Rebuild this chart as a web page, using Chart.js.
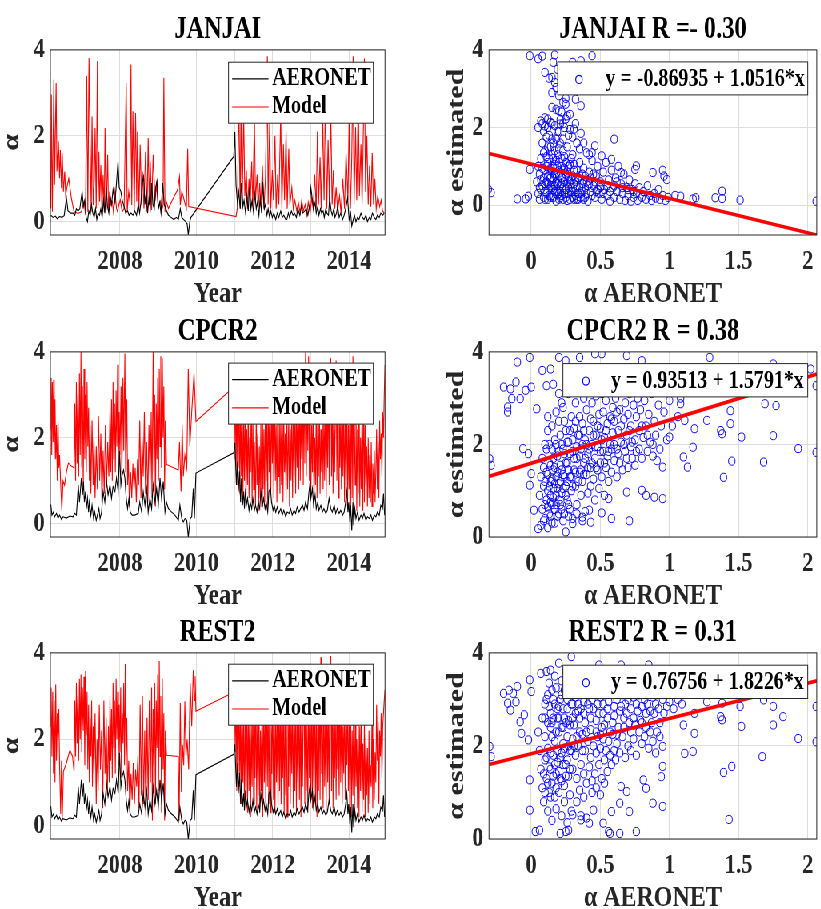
<!DOCTYPE html>
<html>
<head>
<meta charset="utf-8">
<script src="https://cdn.jsdelivr.net/npm/chart.js@4.4.1/dist/chart.umd.min.js"></script>
<style>
    html, body { margin: 0; padding: 0; background: #ffffff; overflow: hidden; }
    /* the figure is horizontally squeezed, so everything is drawn wide and scaled */
    #wrap { position: absolute; left: 0; top: 0; width: 1027px; height: 909px; transform: scaleX(0.8); transform-origin: 0 0; }
    canvas { position: absolute; }
</style>
</head>
<body>
<div id="wrap">
    <canvas id="c1" width="500" height="309" style="left:0px;top:0px"></canvas>
    <canvas id="c2" width="521" height="309" style="left:505px;top:0px"></canvas>
    <canvas id="c3" width="500" height="309" style="left:0px;top:302px"></canvas>
    <canvas id="c4" width="521" height="309" style="left:505px;top:302px"></canvas>
    <canvas id="c5" width="500" height="310" style="left:0px;top:603px"></canvas>
    <canvas id="c6" width="521" height="310" style="left:505px;top:603px"></canvas>
</div>
<script>
// ---- axes ----
const gridYears = [2007, 2008, 2009, 2010, 2011, 2012, 2013, 2014];
const yearLabels = [2008, 2010, 2012, 2014];
const alphaTicks = [0, 2, 4];
const aeronetTicks = [0, 0.5, 1, 1.5, 2];

// ---- JANJAI time series [year, alpha] ----
const jjObs = [[2006.19,0.15],[2006.25,0.1],[2006.31,0.13],[2006.36,0.07],[2006.42,0.12],[2006.485,0.1],[2006.54,0.14],[2006.6,0.55],[2006.64,0.25],[2006.71,0.2],[2006.77,0.2],[2006.82,0.15],[2006.86,0.3],[2006.905,0.25],[2006.95,0.3],[2007.01,0.7],[2007.045,0.35],[2007.08,0.5],[2007.115,0.1],[2007.15,0.0],[2007.185,0.25],[2007.22,0.15],[2007.255,0.4],[2007.29,0.2],[2007.325,0.1],[2007.36,0.3],[2007.395,0.05],[2007.43,0.2],[2007.465,0.15],[2007.5,0.3],[2007.535,0.1],[2007.57,0.5],[2007.605,0.2],[2007.64,0.8],[2007.675,0.35],[2007.71,0.2],[2007.745,0.6],[2007.78,0.4],[2007.82,0.75],[2007.87,0.45],[2007.91,0.9],[2007.95,1.4],[2007.98,0.8],[2008.025,0.7],[2008.06,0.5],[2008.11,0.35],[2008.15,0.2],[2008.2,0.25],[2008.24,0.15],[2008.29,0.2],[2008.34,0.15],[2008.39,0.25],[2008.435,0.15],[2008.48,0.4],[2008.515,0.2],[2008.55,0.45],[2008.585,0.9],[2008.62,1.05],[2008.655,0.4],[2008.69,0.7],[2008.725,0.2],[2008.76,0.55],[2008.795,0.3],[2008.83,0.9],[2008.865,0.4],[2008.9,0.3],[2008.935,0.8],[2008.97,0.95],[2009.005,0.3],[2009.04,0.45],[2009.075,0.2],[2009.12,0.9],[2009.16,0.4],[2009.2,0.3],[2009.27,0.15],[2009.34,0.1],[2009.41,0.05],[2009.48,0.1],[2009.53,0.05],[2009.58,0.3],[2009.62,0.1],[2009.67,0.05],[2009.72,0.0],[2009.76,-0.05],[2009.79,-0.3],[2009.83,0.0],[2009.86,0.1],
    [2010.98,1.52],[2011.01,2.09],[2011.04,0.86],[2011.08,0.4],[2011.11,0.7],[2011.15,0.3],[2011.18,0.9],[2011.22,0.35],[2011.25,0.5],[2011.29,0.2],[2011.32,0.6],[2011.36,0.25],[2011.39,0.8],[2011.43,0.3],[2011.46,0.5],[2011.5,0.2],[2011.53,0.65],[2011.57,0.3],[2011.6,0.45],[2011.64,0.15],[2011.67,0.55],[2011.71,0.2],[2011.74,0.93],[2011.78,0.3],[2011.81,0.4],[2011.85,0.15],[2011.88,0.3],[2011.92,0.1],[2011.95,0.25],[2011.99,0.1],[2012.03,0.2],[2012.08,0.05],[2012.12,0.2],[2012.16,0.1],[2012.21,0.25],[2012.25,0.1],[2012.29,0.15],[2012.34,0.05],[2012.37,0.05],[2012.41,0.2],[2012.44,0.1],[2012.49,0.25],[2012.53,0.15],[2012.57,0.2],[2012.62,0.1],[2012.66,0.3],[2012.71,0.15],[2012.75,0.35],[2012.79,0.2],[2012.84,0.25],[2012.88,0.3],[2012.92,0.15],[2012.97,0.4],[2013.0,0.79],[2013.04,0.5],[2013.07,0.3],[2013.11,0.45],[2013.14,0.2],[2013.18,0.35],[2013.21,0.15],[2013.25,0.3],[2013.28,0.2],[2013.32,0.25],[2013.35,0.1],[2013.39,0.3],[2013.42,0.2],[2013.46,0.15],[2013.49,0.55],[2013.53,0.25],[2013.56,0.15],[2013.6,0.3],[2013.63,0.1],[2013.67,0.2],[2013.7,0.35],[2013.74,0.1],[2013.78,0.2],[2013.83,0.05],[2013.87,0.15],[2013.91,0.3],[2013.96,0.55],[2014.0,0.05],[2014.04,0.2],[2014.07,-0.1],[2014.11,0.05],[2014.14,0.15],[2014.18,0.0],[2014.22,0.1],[2014.26,0.05],[2014.31,0.2],[2014.35,0.1],[2014.39,0.05],[2014.44,0.15],[2014.48,0.0],[2014.53,0.1],[2014.57,0.05],[2014.61,0.2],[2014.66,0.1],[2014.7,0.05],[2014.74,0.15],[2014.79,0.1],[2014.83,0.2],[2014.88,0.15],[2014.92,0.2]];

const jjModel = [[2006.19,0.31],[2006.205,2.96],[2006.23,0.23],[2006.27,3.31],[2006.29,0.86],[2006.33,3.23],[2006.35,1.17],[2006.39,1.87],[2006.42,1.01],[2006.44,1.67],[2006.47,0.78],[2006.49,1.6],[2006.52,0.7],[2006.555,1.17],[2006.58,0.62],[2006.625,0.86],[2006.66,1.01],[2006.73,0.54],[2006.8,0.23],[2006.905,0.19],[2006.99,0.23],[2007.06,0.47],[2007.1,0.16],[2007.13,3.39],[2007.16,0.23],[2007.19,3.81],[2007.22,1.79],[2007.25,0.23],[2007.27,2.45],[2007.3,0.39],[2007.33,1.01],[2007.35,2.18],[2007.38,0.31],[2007.41,3.74],[2007.43,0.39],[2007.45,1.63],[2007.47,0.47],[2007.5,1.32],[2007.53,0.23],[2007.56,1.09],[2007.59,0.23],[2007.61,2.18],[2007.64,0.27],[2007.68,1.56],[2007.7,0.23],[2007.73,0.7],[2007.76,0.39],[2007.8,0.47],[2007.83,0.23],[2007.87,0.7],[2007.91,0.31],[2007.94,0.23],[2007.97,0.39],[2008.01,0.51],[2008.06,0.23],[2008.11,0.31],[2008.165,3.23],[2008.19,0.23],[2008.23,0.7],[2008.26,0.47],[2008.29,3.66],[2008.31,0.39],[2008.34,2.57],[2008.375,0.23],[2008.41,2.53],[2008.44,0.47],[2008.46,2.1],[2008.5,0.31],[2008.53,1.79],[2008.57,0.39],[2008.59,1.17],[2008.63,0.31],[2008.67,1.63],[2008.71,0.23],[2008.74,1.95],[2008.77,0.39],[2008.795,1.4],[2008.83,0.27],[2008.87,1.56],[2008.92,0.47],[2008.96,0.86],[2009.005,0.31],[2009.06,0.47],[2009.09,0.23],[2009.13,0.39],[2009.15,3.35],[2009.18,0.23],[2009.215,0.47],[2009.27,0.31],[2009.355,0.47],[2009.44,0.62],[2009.51,0.74],[2009.56,1.05],[2009.58,0.39],[2009.62,0.7],[2009.65,0.62],[2009.69,0.47],[2009.74,0.31],[2009.775,1.7],[2009.8,0.35],
    [2011.04,0.12],[2011.08,0.35],[2011.11,3.0],[2011.15,0.3],[2011.17,2.8],[2011.2,0.4],[2011.24,2.5],[2011.27,0.6],[2011.31,1.2],[2011.34,0.3],[2011.38,1.0],[2011.41,0.4],[2011.45,1.4],[2011.48,0.35],[2011.52,2.4],[2011.55,0.5],[2011.59,1.1],[2011.62,0.3],[2011.66,0.9],[2011.69,0.35],[2011.73,1.3],[2011.77,0.3],[2011.81,1.0],[2011.86,3.85],[2011.88,0.4],[2011.92,2.3],[2011.95,0.3],[2011.99,1.2],[2012.02,0.5],[2012.06,2.0],[2012.09,0.3],[2012.13,1.1],[2012.16,0.4],[2012.21,2.5],[2012.24,0.3],[2012.28,1.8],[2012.31,0.5],[2012.35,2.1],[2012.38,0.3],[2012.42,1.7],[2012.45,0.4],[2012.5,0.8],[2012.54,0.3],[2012.58,0.5],[2012.63,0.25],[2012.67,0.45],[2012.72,0.2],[2012.76,0.5],[2012.8,0.25],[2012.85,0.4],[2012.89,0.15],[2012.93,0.45],[2012.98,0.2],[2013.02,0.55],[2013.06,0.3],[2013.1,1.1],[2013.14,0.3],[2013.17,2.1],[2013.2,0.4],[2013.24,1.5],[2013.27,0.3],[2013.31,2.4],[2013.345,0.5],[2013.38,2.9],[2013.415,0.3],[2013.45,1.9],[2013.485,0.5],[2013.52,2.6],[2013.555,0.4],[2013.59,1.2],[2013.625,0.3],[2013.66,0.8],[2013.7,0.25],[2013.75,0.6],[2013.79,0.2],[2013.835,1.0],[2013.88,0.3],[2013.92,1.6],[2013.97,0.5],[2014.0,2.4],[2014.035,0.3],[2014.07,1.5],[2014.105,3.85],[2014.13,0.4],[2014.17,2.2],[2014.2,0.5],[2014.24,2.9],[2014.27,0.6],[2014.31,1.8],[2014.34,0.4],[2014.38,2.5],[2014.4,3.8],[2014.43,0.7],[2014.465,2.0],[2014.5,0.4],[2014.535,1.3],[2014.57,0.35],[2014.605,1.6],[2014.64,0.4],[2014.675,1.0],[2014.71,0.3],[2014.75,0.6],[2014.8,0.35],[2014.84,0.5],[2014.875,0.25],[2014.92,0.2]];

// ---- AERONET series shown in the CPCR2 and REST2 panels ----
const obsB = [[2006.19,0.45],[2006.22,0.2],[2006.26,0.27],[2006.29,0.16],[2006.34,0.24],[2006.38,0.13],[2006.42,0.2],[2006.47,0.1],[2006.51,0.16],[2006.6,0.13],[2006.69,0.18],[2006.77,0.16],[2006.82,0.24],[2006.86,0.2],[2006.89,0.59],[2006.91,0.9],[2006.94,0.5],[2006.97,0.82],[2006.99,1.06],[2007.02,0.67],[2007.045,0.98],[2007.07,0.5],[2007.1,0.75],[2007.12,0.35],[2007.15,0.6],[2007.18,0.27],[2007.2,0.5],[2007.24,0.2],[2007.27,0.43],[2007.31,0.12],[2007.34,0.27],[2007.38,0.08],[2007.41,0.2],[2007.45,0.35],[2007.48,0.12],[2007.52,0.27],[2007.56,0.75],[2007.605,0.5],[2007.65,0.98],[2007.69,0.67],[2007.74,0.9],[2007.78,0.59],[2007.82,0.86],[2007.87,0.75],[2007.91,1.06],[2007.955,0.75],[2007.99,1.69],[2008.025,0.9],[2008.06,1.14],[2008.095,1.25],[2008.13,1.06],[2008.165,0.59],[2008.2,0.35],[2008.235,0.59],[2008.27,0.27],[2008.32,0.2],[2008.39,0.2],[2008.48,0.24],[2008.52,0.5],[2008.57,0.27],[2008.61,0.75],[2008.655,0.43],[2008.7,0.82],[2008.74,0.27],[2008.785,0.59],[2008.83,0.35],[2008.87,0.9],[2008.92,0.5],[2008.96,0.82],[2009.005,0.43],[2009.05,1.06],[2009.09,0.59],[2009.135,0.98],[2009.18,0.27],[2009.22,0.5],[2009.27,0.35],[2009.355,0.27],[2009.44,0.2],[2009.53,0.08],[2009.57,0.43],[2009.62,0.12],[2009.66,0.04],[2009.705,0.12],[2009.75,0.08],[2009.79,-0.31],[2009.84,0.12],[2009.88,0.16],[2009.92,0.82],[2009.95,0.12],[2009.99,1.18],
    [2010.98,1.65],[2011.01,1.88],[2011.03,1.37],[2011.05,0.9],[2011.08,1.45],[2011.1,0.75],[2011.13,1.22],[2011.16,0.5],[2011.18,1.06],[2011.21,0.43],[2011.24,0.75],[2011.26,0.35],[2011.29,0.82],[2011.31,0.43],[2011.34,0.59],[2011.38,0.31],[2011.41,0.5],[2011.45,0.35],[2011.48,0.59],[2011.52,0.31],[2011.55,0.43],[2011.59,0.27],[2011.62,0.5],[2011.66,0.35],[2011.69,0.75],[2011.73,0.43],[2011.76,0.59],[2011.8,0.35],[2011.83,0.5],[2011.87,0.27],[2011.9,0.75],[2011.94,0.82],[2011.97,0.5],[2012.01,0.31],[2012.04,0.43],[2012.08,0.27],[2012.12,0.39],[2012.16,0.24],[2012.21,0.35],[2012.25,0.2],[2012.29,0.31],[2012.34,0.16],[2012.38,0.27],[2012.43,0.24],[2012.47,0.35],[2012.51,0.2],[2012.56,0.31],[2012.6,0.24],[2012.64,0.39],[2012.69,0.27],[2012.73,0.35],[2012.78,0.43],[2012.82,0.31],[2012.86,0.5],[2012.91,0.35],[2012.95,0.75],[2012.98,0.98],[2013.0,0.59],[2013.04,0.82],[2013.07,0.43],[2013.11,0.67],[2013.14,0.35],[2013.18,0.5],[2013.21,0.31],[2013.26,0.43],[2013.3,0.27],[2013.34,0.35],[2013.39,0.24],[2013.43,0.31],[2013.475,0.59],[2013.52,0.35],[2013.56,0.27],[2013.61,0.43],[2013.65,0.24],[2013.69,0.35],[2013.74,0.24],[2013.78,0.31],[2013.83,0.2],[2013.87,0.27],[2013.91,0.5],[2013.94,0.75],[2013.97,0.27],[2013.99,0.5],[2014.02,0.04],[2014.04,0.43],[2014.07,-0.16],[2014.1,0.5],[2014.12,-0.04],[2014.15,0.35],[2014.18,0.12],[2014.22,0.27],[2014.26,0.08],[2014.31,0.2],[2014.35,0.12],[2014.39,0.24],[2014.44,0.08],[2014.48,0.16],[2014.53,0.12],[2014.57,0.2],[2014.61,0.08],[2014.66,0.2],[2014.7,0.16],[2014.74,0.27],[2014.79,0.2],[2014.83,0.43],[2014.875,0.35],[2014.9,0.7],[2014.93,0.2]];

// ---- CPCR2 model ----
const cpModel = [[2006.19,2.2],[2006.2,3.4],[2006.215,1.6],[2006.23,3.3],[2006.25,1.9],[2006.265,3.35],[2006.28,1.5],[2006.3,2.9],[2006.32,1.5],[2006.34,2.3],[2006.36,1.0],[2006.38,2.4],[2006.4,1.3],[2006.42,1.6],[2006.45,0.9],[2006.48,0.3],[2006.51,1.0],[2006.55,0.9],[2006.6,1.2],[2006.65,1.41],[2006.72,1.35],[2006.8,1.3],[2006.82,2.8],[2006.84,1.0],[2006.86,3.3],[2006.88,1.4],[2006.9,3.0],[2006.92,1.1],[2006.94,3.5],[2006.96,1.6],[2006.98,4.0],[2007.0,1.3],[2007.02,3.2],[2007.04,0.8],[2007.06,3.6],[2007.08,1.5],[2007.1,3.0],[2007.12,1.2],[2007.14,3.3],[2007.16,1.8],[2007.18,2.7],[2007.2,1.0],[2007.22,2.3],[2007.24,0.7],[2007.27,2.4],[2007.3,0.9],[2007.32,2.0],[2007.35,0.6],[2007.38,1.8],[2007.41,0.8],[2007.44,2.5],[2007.47,1.0],[2007.5,2.1],[2007.53,0.5],[2007.56,1.7],[2007.59,0.7],[2007.62,2.3],[2007.65,0.9],[2007.68,1.9],[2007.71,1.1],[2007.74,2.6],[2007.76,1.2],[2007.78,2.9],[2007.8,1.0],[2007.82,3.3],[2007.84,1.5],[2007.86,2.8],[2007.88,1.2],[2007.9,3.1],[2007.92,1.8],[2007.94,3.7],[2007.96,1.3],[2007.98,2.6],[2008.0,1.6],[2008.03,3.2],[2008.05,1.0],[2008.08,3.4],[2008.1,1.7],[2008.13,3.96],[2008.15,1.2],[2008.18,2.9],[2008.2,0.9],[2008.22,1.5],[2008.25,0.4],[2008.28,1.2],[2008.31,0.6],[2008.34,1.4],[2008.37,0.8],[2008.4,1.3],[2008.43,0.5],[2008.46,1.5],[2008.49,0.9],[2008.52,2.4],[2008.55,0.6],[2008.58,2.0],[2008.61,1.1],[2008.64,2.6],[2008.67,0.7],[2008.7,1.9],[2008.73,0.5],[2008.76,2.3],[2008.79,1.0],[2008.82,2.6],[2008.84,0.6],[2008.87,4.0],[2008.89,1.2],[2008.91,3.0],[2008.93,0.4],[2008.95,2.8],[2008.97,1.5],[2008.99,3.4],[2009.01,1.0],[2009.03,3.6],[2009.05,1.8],[2009.07,3.9],[2009.09,1.3],[2009.11,3.85],[2009.13,2.0],[2009.15,3.2],[2009.17,0.8],[2009.19,2.4],[2009.22,1.38],[2009.53,1.25],[2009.56,1.9],[2009.6,0.75],[2009.63,2.3],[2009.66,1.1],[2009.7,1.6],[2009.75,1.3],[2009.79,3.6],[2009.83,1.8],[2009.88,2.6],[2009.94,3.5],[2009.99,2.38],
    [2011.0,3.2],[2011.02,1.5],[2011.04,3.4],[2011.06,0.9],[2011.08,2.9],[2011.1,1.3],[2011.12,3.6],[2011.14,0.7],[2011.16,2.6],[2011.18,1.1],[2011.2,3.3],[2011.22,0.6],[2011.24,2.4],[2011.26,1.0],[2011.28,3.1],[2011.3,0.5],[2011.32,2.2],[2011.34,0.9],[2011.36,2.8],[2011.38,0.6],[2011.4,2.0],[2011.42,1.2],[2011.44,3.0],[2011.46,0.5],[2011.48,2.5],[2011.5,0.8],[2011.52,1.9],[2011.55,0.4],[2011.57,2.7],[2011.59,0.9],[2011.61,2.1],[2011.63,0.3],[2011.65,1.8],[2011.67,0.6],[2011.69,2.4],[2011.71,0.4],[2011.73,2.9],[2011.75,0.8],[2011.77,2.2],[2011.79,0.5],[2011.81,3.0],[2011.83,1.0],[2011.85,2.6],[2011.87,0.4],[2011.89,3.3],[2011.91,1.2],[2011.93,2.5],[2011.95,0.7],[2011.97,3.1],[2011.99,1.4],[2012.01,2.7],[2012.03,0.6],[2012.05,3.4],[2012.07,1.0],[2012.09,2.3],[2012.11,0.5],[2012.13,2.8],[2012.15,1.1],[2012.17,3.0],[2012.19,0.7],[2012.21,2.4],[2012.23,0.9],[2012.25,3.2],[2012.27,0.5],[2012.29,2.6],[2012.31,1.2],[2012.33,2.1],[2012.35,0.6],[2012.37,2.9],[2012.39,0.8],[2012.42,2.5],[2012.44,0.4],[2012.46,2.2],[2012.48,1.0],[2012.5,3.0],[2012.52,0.6],[2012.54,2.4],[2012.56,1.1],[2012.58,3.3],[2012.6,0.7],[2012.62,2.6],[2012.64,1.3],[2012.66,2.9],[2012.68,0.8],[2012.7,3.5],[2012.72,1.0],[2012.74,2.7],[2012.76,1.5],[2012.78,3.2],[2012.8,0.9],[2012.82,3.7],[2012.84,1.4],[2012.86,4.0],[2012.88,1.1],[2012.9,3.0],[2012.92,1.7],[2012.94,3.9],[2012.96,1.0],[2012.98,2.8],[2013.0,0.7],[2013.02,2.3],[2013.04,1.2],[2013.06,3.1],[2013.08,0.5],[2013.1,2.0],[2013.12,0.9],[2013.14,2.7],[2013.16,0.6],[2013.18,2.4],[2013.2,1.1],[2013.22,3.0],[2013.24,0.7],[2013.26,2.2],[2013.28,1.2],[2013.3,2.9],[2013.32,0.8],[2013.34,2.5],[2013.36,1.0],[2013.38,3.2],[2013.4,0.6],[2013.42,2.7],[2013.44,1.3],[2013.46,3.6],[2013.48,0.9],[2013.5,3.0],[2013.52,3.85],[2013.54,1.1],[2013.56,2.6],[2013.58,0.7],[2013.6,3.3],[2013.62,1.2],[2013.64,2.4],[2013.66,3.8],[2013.68,1.0],[2013.7,2.8],[2013.72,0.6],[2013.74,3.1],[2013.76,1.3],[2013.78,2.5],[2013.8,0.8],[2013.82,3.4],[2013.84,1.1],[2013.86,2.9],[2013.88,0.5],[2013.9,2.6],[2013.92,1.0],[2013.94,3.2],[2013.96,0.4],[2013.98,2.3],[2014.0,0.8],[2014.02,2.9],[2014.04,0.3],[2014.06,3.5],[2014.08,0.6],[2014.1,3.9],[2014.12,0.4],[2014.14,2.4],[2014.16,0.9],[2014.18,3.0],[2014.2,0.3],[2014.22,2.2],[2014.24,0.7],[2014.26,3.3],[2014.28,0.4],[2014.3,2.0],[2014.32,0.8],[2014.34,2.7],[2014.36,0.3],[2014.38,3.6],[2014.4,0.5],[2014.42,2.3],[2014.44,0.9],[2014.46,1.8],[2014.48,0.4],[2014.5,2.0],[2014.52,0.6],[2014.54,1.6],[2014.56,0.5],[2014.58,1.9],[2014.6,0.4],[2014.62,1.4],[2014.64,0.7],[2014.66,1.7],[2014.68,0.5],[2014.7,1.2],[2014.72,2.2],[2014.74,0.8],[2014.76,1.9],[2014.78,0.6],[2014.8,2.4],[2014.82,1.5],[2014.84,2.1],[2014.86,1.1],[2014.88,2.6],[2014.9,2.0],[2014.92,3.0],[2014.94,3.7]];

// ---- REST2 model ----
const rsModel = [[2006.19,2.3],[2006.2,3.2],[2006.22,1.6],[2006.24,3.1],[2006.26,1.2],[2006.28,2.9],[2006.3,1.0],[2006.32,3.27],[2006.34,1.5],[2006.36,2.6],[2006.38,2.0],[2006.4,2.7],[2006.42,1.4],[2006.45,0.27],[2006.47,1.5],[2006.49,0.15],[2006.52,1.25],[2006.6,1.45],[2006.69,1.75],[2006.76,1.6],[2006.8,1.25],[2006.82,2.9],[2006.84,1.6],[2006.86,3.3],[2006.88,1.9],[2006.9,3.0],[2006.92,1.5],[2006.94,3.4],[2006.96,2.0],[2006.98,3.5],[2007.0,1.7],[2007.02,3.2],[2007.04,2.2],[2007.06,3.45],[2007.08,1.4],[2007.1,3.58],[2007.12,2.1],[2007.14,3.1],[2007.16,1.3],[2007.18,2.8],[2007.2,1.0],[2007.22,2.5],[2007.24,1.6],[2007.26,2.9],[2007.28,0.9],[2007.3,2.3],[2007.32,1.2],[2007.35,2.6],[2007.38,0.5],[2007.4,2.0],[2007.43,0.8],[2007.46,2.8],[2007.49,1.3],[2007.52,2.2],[2007.55,0.4],[2007.58,2.9],[2007.61,1.2],[2007.64,2.5],[2007.67,0.7],[2007.7,2.3],[2007.72,1.0],[2007.74,3.0],[2007.76,1.5],[2007.78,2.7],[2007.8,1.1],[2007.82,3.3],[2007.84,1.8],[2007.86,2.9],[2007.88,1.2],[2007.9,3.4],[2007.92,2.0],[2007.94,3.1],[2007.96,1.4],[2007.98,2.8],[2008.0,1.7],[2008.02,3.2],[2008.04,1.1],[2008.06,2.6],[2008.08,1.9],[2008.1,3.3],[2008.12,1.4],[2008.14,3.74],[2008.16,1.6],[2008.18,2.5],[2008.2,0.8],[2008.23,1.5],[2008.26,0.3],[2008.29,1.2],[2008.32,0.6],[2008.35,1.45],[2008.38,0.5],[2008.41,1.3],[2008.44,0.9],[2008.47,1.6],[2008.5,0.4],[2008.53,2.8],[2008.56,0.7],[2008.59,3.0],[2008.62,0.5],[2008.65,2.2],[2008.68,0.2],[2008.71,2.5],[2008.74,0.6],[2008.77,2.9],[2008.8,1.0],[2008.83,3.2],[2008.85,0.12],[2008.87,2.7],[2008.89,1.4],[2008.91,3.3],[2008.93,0.5],[2008.95,2.9],[2008.97,1.8],[2008.99,3.5],[2009.01,0.8],[2009.03,3.81],[2009.05,1.6],[2009.07,3.0],[2009.09,0.3],[2009.11,3.4],[2009.13,1.3],[2009.15,2.6],[2009.17,0.12],[2009.19,2.2],[2009.22,1.63],[2009.53,1.6],[2009.55,0.12],[2009.58,2.84],[2009.61,0.78],[2009.64,1.87],[2009.67,1.4],[2009.7,2.88],[2009.73,1.6],[2009.76,2.0],[2009.8,1.3],[2009.84,3.3],[2009.88,2.3],[2009.92,3.6],[2009.95,2.9],[2009.97,3.46],[2009.99,2.65],
    [2011.0,3.1],[2011.02,1.7],[2011.04,3.3],[2011.06,0.8],[2011.08,3.0],[2011.1,1.2],[2011.12,3.5],[2011.14,0.9],[2011.16,2.7],[2011.18,0.5],[2011.2,3.2],[2011.22,1.0],[2011.24,2.5],[2011.26,0.4],[2011.28,2.9],[2011.3,0.7],[2011.32,3.4],[2011.34,0.3],[2011.36,2.6],[2011.38,0.8],[2011.4,3.0],[2011.42,0.2],[2011.44,2.4],[2011.46,0.9],[2011.48,3.1],[2011.5,0.5],[2011.52,2.8],[2011.54,1.1],[2011.56,3.3],[2011.58,0.4],[2011.6,2.5],[2011.62,0.7],[2011.64,3.0],[2011.66,0.3],[2011.68,2.2],[2011.7,0.8],[2011.72,2.9],[2011.74,0.2],[2011.76,3.2],[2011.78,1.0],[2011.8,2.6],[2011.82,0.4],[2011.84,3.4],[2011.86,0.9],[2011.88,2.8],[2011.9,0.5],[2011.92,3.1],[2011.94,0.3],[2011.96,2.4],[2011.98,1.2],[2012.0,3.3],[2012.02,0.6],[2012.04,2.7],[2012.06,0.3],[2012.08,3.0],[2012.1,1.0],[2012.12,2.5],[2012.14,0.4],[2012.16,3.2],[2012.18,0.8],[2012.2,2.9],[2012.22,0.5],[2012.24,3.5],[2012.26,1.1],[2012.28,2.6],[2012.3,0.3],[2012.32,3.1],[2012.34,0.7],[2012.36,2.4],[2012.38,0.2],[2012.4,2.8],[2012.42,0.9],[2012.44,3.3],[2012.46,0.5],[2012.48,2.6],[2012.5,1.2],[2012.52,3.0],[2012.54,0.4],[2012.56,2.7],[2012.58,0.8],[2012.6,3.4],[2012.62,0.3],[2012.64,2.5],[2012.66,1.0],[2012.68,3.1],[2012.7,0.6],[2012.72,2.8],[2012.74,0.2],[2012.76,3.3],[2012.78,0.9],[2012.8,2.6],[2012.82,3.72],[2012.84,0.5],[2012.86,3.0],[2012.88,0.8],[2012.9,2.4],[2012.92,0.3],[2012.94,3.2],[2012.96,1.1],[2012.98,2.7],[2013.0,0.6],[2013.02,3.5],[2013.04,0.4],[2013.06,2.9],[2013.08,1.0],[2013.1,3.3],[2013.12,0.5],[2013.14,2.6],[2013.16,0.2],[2013.18,3.0],[2013.2,0.8],[2013.22,3.6],[2013.24,0.6],[2013.26,3.9],[2013.28,1.2],[2013.3,2.8],[2013.32,0.4],[2013.34,3.1],[2013.36,0.9],[2013.38,2.5],[2013.4,0.3],[2013.42,3.4],[2013.44,1.0],[2013.46,2.7],[2013.48,0.5],[2013.5,3.2],[2013.52,3.93],[2013.54,0.8],[2013.56,2.9],[2013.58,0.4],[2013.6,3.5],[2013.62,1.1],[2013.64,2.6],[2013.66,0.6],[2013.68,3.0],[2013.7,1.3],[2013.72,2.4],[2013.74,0.7],[2013.76,3.3],[2013.78,1.0],[2013.8,2.8],[2013.82,0.5],[2013.84,2.3],[2013.86,1.2],[2013.88,3.1],[2013.9,0.6],[2013.92,2.6],[2013.94,1.4],[2013.96,3.0],[2013.98,0.8],[2014.0,2.4],[2014.02,0.4],[2014.04,2.9],[2014.06,0.2],[2014.08,2.2],[2014.1,0.7],[2014.12,3.2],[2014.14,0.3],[2014.16,2.5],[2014.18,0.9],[2014.2,2.0],[2014.22,0.4],[2014.24,2.7],[2014.26,0.2],[2014.28,2.3],[2014.3,0.8],[2014.32,2.9],[2014.34,0.3],[2014.36,1.9],[2014.38,0.6],[2014.4,2.4],[2014.42,0.2],[2014.44,2.1],[2014.46,0.7],[2014.48,1.8],[2014.5,0.3],[2014.52,2.2],[2014.54,0.5],[2014.56,1.4],[2014.58,0.9],[2014.6,2.5],[2014.62,0.4],[2014.64,2.0],[2014.66,0.6],[2014.68,1.7],[2014.7,1.0],[2014.72,2.8],[2014.74,1.5],[2014.76,2.4],[2014.78,0.5],[2014.8,2.2],[2014.82,1.6],[2014.84,2.6],[2014.86,1.1],[2014.88,2.3],[2014.9,2.6],[2014.92,2.9],[2014.94,3.15]];

// ---- scatter: [alpha AERONET, alpha estimated] ----
const jjScatter = [[-0.01,3.85],[0.05,3.77],[0.08,3.84],[0.17,3.87],[0.44,3.85],[0.16,3.68],[0.19,3.5],[0.1,3.42],[0.13,3.27],[0.15,3.29],[0.17,3.16],[0.18,3.03],[0.15,2.9],[0.2,2.82],[0.25,2.75],[0.32,2.73],[0.36,2.56],[0.27,3.16],[0.3,3.68],[0.36,3.72],[0.15,2.52],[0.18,2.47],[0.2,2.43],[0.23,2.65],[0.28,2.34],[0.07,2.17],[0.1,2.04],[0.12,2.22],[0.14,2.13],[0.21,2.09],[0.25,2.22],[0.31,1.96],[0.6,1.7],[0.46,1.53],[0.44,1.35],[0.51,1.27],[0.58,1.18],[0.65,0.84],[0.76,1.01],[0.75,0.92],[0.88,0.84],[0.95,0.9],[0.96,0.75],[0.98,0.66],[-0.31,0.41],[-0.29,0.32],[-0.1,0.16],[-0.04,0.16],[-0.02,0.23],[-0.01,0.92],[1.04,0.25],[1.08,0.23],[1.17,0.16],[1.19,0.19],[1.33,0.19],[1.38,0.36],[1.38,0.17],[1.51,0.13],[2.06,0.1],
    [0.05,0.3],[0.06,0.8],[0.07,1.2],[0.08,0.5],[0.08,1.6],[0.09,0.2],[0.1,0.9],[0.1,1.4],[0.11,0.6],[0.12,0.15],[0.12,1.1],[0.13,1.8],[0.13,0.4],[0.14,0.7],[0.15,1.3],[0.15,0.25],[0.16,0.95],[0.16,1.6],[0.17,0.5],[0.18,0.1],[0.18,1.15],[0.19,0.35],[0.19,1.9],[0.2,0.75],[0.2,1.45],[0.21,0.2],[0.22,1.0],[0.22,0.55],[0.23,1.7],[0.24,0.3],[0.24,1.25],[0.25,0.8],[0.26,0.12],[0.26,1.5],[0.27,0.45],[0.28,1.05],[0.28,1.95],[0.29,0.65],[0.3,0.2],[0.3,1.3],[0.31,0.9],[0.32,0.4],[0.33,1.6],[0.33,0.15],[0.34,0.7],[0.35,1.1],[0.36,0.3],[0.36,1.85],[0.37,0.55],[0.38,0.95],[0.39,0.2],[0.4,1.35],[0.4,0.6],[0.41,0.1],[0.42,0.85],[0.43,0.35],[0.44,1.15],[0.45,0.5],[0.46,0.2],[0.47,0.75],[0.48,1.0],[0.49,0.3],[0.5,0.6],[0.51,0.15],[0.52,0.85],[0.53,0.4],[0.54,1.1],[0.55,0.25],[0.56,0.65],[0.57,0.1],[0.58,0.9],[0.59,0.45],[0.6,0.2],[0.61,0.7],[0.62,0.35],[0.63,1.0],[0.64,0.15],[0.65,0.55],[0.66,0.3],[0.67,0.8],[0.68,0.12],[0.69,0.45],[0.7,0.25],[0.71,0.65],[0.72,0.1],[0.73,0.4],[0.74,0.2],[0.75,0.55],[0.76,0.3],[0.77,0.12],[0.78,0.45],[0.8,0.2],[0.81,0.35],[0.83,0.15],[0.84,0.5],[0.86,0.25],[0.87,0.12],[0.89,0.3],[0.9,0.18],[0.92,0.4],[0.93,0.15],[0.95,0.25],[0.97,0.12],[0.99,0.2],
    [0.04,0.6],[0.05,1.0],[0.06,0.15],[0.07,0.4],[0.09,0.7],[0.1,0.35],[0.11,1.25],[0.12,0.55],[0.13,0.9],[0.14,0.2],[0.15,0.6],[0.16,0.4],[0.17,0.8],[0.18,0.6],[0.2,0.3],[0.21,0.5],[0.23,0.9],[0.25,0.4],[0.27,0.7],[0.29,0.35],[0.31,0.55],[0.34,0.3],[0.37,0.8],[0.39,0.45],[0.42,0.55],[0.45,0.8],[0.48,0.4],[0.05,2.0],[0.08,2.1],[0.1,2.25],[0.12,2.0],[0.14,1.5],[0.17,2.05],[0.21,2.2],[0.24,2.0],[0.26,2.3],[0.3,1.75],[0.32,2.1],[0.35,1.45],[0.38,1.6],[0.42,1.3],[0.25,2.6],[0.22,2.4],
    [0.06,0.45],[0.07,0.65],[0.08,0.95],[0.09,1.35],[0.1,0.15],[0.1,0.55],[0.11,0.3],[0.11,1.0],[0.12,0.75],[0.12,1.5],[0.13,0.25],[0.13,1.2],[0.14,0.5],[0.14,0.95],[0.15,0.45],[0.15,0.85],[0.15,1.7],[0.16,0.2],[0.16,0.7],[0.16,1.2],[0.17,0.35],[0.17,1.05],[0.17,1.4],[0.18,0.8],[0.18,0.3],[0.19,0.55],[0.19,1.0],[0.19,1.3],[0.2,0.15],[0.2,0.6],[0.2,1.1],[0.21,0.35],[0.21,0.85],[0.21,1.6],[0.22,0.25],[0.22,0.7],[0.22,1.2],[0.23,0.45],[0.23,0.15],[0.23,1.4],[0.24,0.6],[0.24,0.95],[0.25,0.2],[0.25,1.1],[0.26,0.55],[0.26,0.85],[0.27,0.3],[0.27,1.0],[0.28,0.15],[0.28,0.6],[0.29,0.45],[0.29,1.2],[0.3,0.75],[0.3,0.35],[0.31,0.15],[0.31,1.05],[0.32,0.65],[0.32,0.25],[0.33,0.5],[0.33,0.9],[0.34,0.15],[0.35,0.45],[0.35,0.75],[0.36,0.2],[0.37,0.35],[0.38,0.6],[0.38,0.15],[0.39,0.75],[0.4,0.3],[0.41,0.5],[0.43,0.7],[0.44,0.25],[0.46,0.6],[0.47,0.35],[0.5,0.45],[0.52,0.3],[0.55,0.5],[0.57,0.35],[0.6,0.5],[0.62,0.6],[0.66,0.45],[0.7,0.4],[0.74,0.35],[0.18,1.7],[0.2,1.9],[0.23,2.1],[0.27,1.8],[0.15,2.1],[0.11,1.75],[0.09,1.9]];

const cpScatter = [[-0.3,1.69],[-0.29,1.55],[-0.2,3.24],[-0.15,3.2],[-0.14,2.99],[-0.1,3.78],[-0.11,3.35],[-0.17,2.81],[-0.17,2.7],[-0.08,2.99],[-0.06,1.91],[-0.04,3.17],[-0.01,3.88],[0,3.24],[0.04,2.77],[-0.02,1.8],[0,1.37],[-0.01,1.12],[0.02,0.58],[0.05,0.18],[0.25,0.11],[0.08,3.6],[0.11,3.27],[0.14,3.63],[0.2,3.88],[0.25,3.81],[0.35,3.88],[0.46,3.96],[0.51,3.96],[0.69,3.92],[0.8,3.81],[1.29,3.88],[1.75,3.74],[2.02,3.63],[2.06,3.27],[2.06,1.83],[1.93,1.91],[1.68,1.62],[1.39,1.29],[1.45,1.64],[1.37,2.3],[1.38,2.23],[1.52,2.16],[1.75,2.19],[1.69,2.88],[1.77,2.84],[1.44,2.73],[1.44,2.45],[1.27,2.52],[1.18,2.34],[1.17,1.94],[1.13,1.51],[1.1,1.73],[1.11,2.52],[1.08,2.88],[1.0,2.16],[0.95,1.51],[0.95,0.83],[0.89,0.86],[0.83,0.9],[0.8,1.01],[0.69,0.97],[0.71,0.35],[0.58,0.4],[0.51,0.52],[0.56,0.83],[0.42,0.58],[0.37,0.43],[0.3,0.29],[0.43,0.32],
    [0.06,0.9],[0.07,1.3],[0.08,0.6],[0.08,1.7],[0.09,1.1],[0.1,0.4],[0.1,2.0],[0.11,0.8],[0.11,1.4],[0.12,1.0],[0.12,2.3],[0.13,0.5],[0.13,1.6],[0.14,1.2],[0.14,0.75],[0.15,1.9],[0.15,0.3],[0.16,1.05],[0.16,1.45],[0.17,0.6],[0.17,2.1],[0.18,0.9],[0.18,1.3],[0.19,1.75],[0.19,0.45],[0.2,1.15],[0.2,2.5],[0.21,0.7],[0.21,1.55],[0.22,2.0],[0.22,0.95],[0.23,1.35],[0.23,2.8],[0.24,0.5],[0.24,1.8],[0.25,1.1],[0.25,2.3],[0.26,0.8],[0.26,1.6],[0.27,2.05],[0.27,3.1],[0.28,0.6],[0.28,1.3],[0.29,2.6],[0.29,1.0],[0.3,1.85],[0.3,0.4],[0.31,2.35],[0.31,1.45],
    [0.32,2.9],[0.32,1.1],[0.33,1.7],[0.33,0.7],[0.34,2.2],[0.34,3.2],[0.35,1.4],[0.35,2.6],[0.36,0.9],[0.36,1.9],[0.37,2.45],[0.37,1.2],[0.38,3.0],[0.38,1.6],[0.39,0.55],[0.39,2.1],[0.4,1.35],[0.4,2.75],[0.41,1.8],[0.41,0.95],[0.42,2.3],[0.42,3.3],[0.43,1.5],[0.43,1.1],[0.44,2.0],[0.44,2.9],[0.45,1.25],[0.45,2.5],[0.46,1.7],[0.46,0.8],[0.47,2.2],[0.47,3.05],[0.48,1.45],[0.48,1.95],[0.49,2.65],[0.49,1.05],[0.5,1.6],[0.5,2.35],[0.51,3.1],[0.51,1.3],[0.52,1.85],[0.52,2.7],[0.53,0.9],[0.53,2.15],[0.54,1.5],[0.54,2.95],[0.55,1.75],[0.55,2.45],[0.56,1.2],[0.56,3.2],[0.57,2.0],[0.57,2.6],[0.58,1.4],[0.58,1.9],[0.59,2.8],[0.59,2.25],
    [0.6,1.65],[0.6,2.5],[0.61,3.0],[0.62,1.9],[0.62,1.3],[0.63,2.3],[0.64,2.75],[0.64,1.6],[0.65,2.05],[0.66,3.2],[0.66,1.45],[0.67,2.55],[0.68,1.85],[0.68,2.9],[0.69,2.2],[0.7,1.5],[0.7,2.65],[0.71,3.1],[0.72,1.95],[0.72,2.4],[0.73,1.7],[0.74,2.85],[0.75,2.1],[0.75,1.55],[0.76,2.6],[0.77,3.0],[0.78,1.9],[0.78,2.3],[0.79,2.75],[0.8,1.7],[0.81,2.15],[0.82,2.95],[0.83,2.4],[0.84,1.85],[0.85,2.65],[0.86,2.05],[0.87,3.1],[0.88,1.75],[0.89,2.5],[0.9,2.2],[0.91,1.65],[0.92,2.85],[0.93,1.9],[0.94,2.4],[0.96,2.7],[0.98,2.1],[1.0,2.95],[1.02,2.4],[1.04,3.2],[1.06,2.6],[1.08,3.0],
    [0.07,0.25],[0.09,0.35],[0.12,0.2],[0.14,0.45],[0.17,0.3],[0.2,0.5],[0.23,0.35],[0.27,0.45],[0.33,0.5],[0.37,0.35],
    [0.09,1.5],[0.1,1.2],[0.1,0.7],[0.11,1.9],[0.12,1.35],[0.12,0.65],[0.13,1.1],[0.13,2.0],[0.14,0.9],[0.14,1.55],[0.15,1.25],[0.15,0.7],[0.16,1.7],[0.16,0.85],[0.17,1.15],[0.17,1.5],[0.18,0.7],[0.18,2.0],[0.19,1.05],[0.19,1.4],[0.2,0.8],[0.2,1.85],[0.21,1.2],[0.21,2.2],[0.22,1.45],[0.22,0.6],[0.23,1.05],[0.23,1.9],[0.24,1.3],[0.24,2.5],[0.25,0.9],[0.25,1.6],[0.26,2.05],[0.26,1.2],[0.27,1.45],[0.27,0.7],[0.28,1.8],[0.28,2.3],[0.29,1.3],[0.3,2.1],[0.3,1.1],[0.31,1.7],[0.32,1.4],[0.32,2.5],[0.33,1.95],[0.34,1.2],[0.35,1.75],[0.35,2.2],[0.36,1.45],[0.37,2.0],[0.38,1.35],[0.38,2.3],[0.39,1.7],[0.4,2.0],[0.41,1.5],[0.42,1.9],[0.43,2.55],[0.44,1.6],[0.45,2.2],[0.46,1.95],[0.47,1.5],[0.48,2.4],[0.5,1.85],[0.51,2.1],[0.53,1.6],[0.54,2.3],[0.56,1.85],[0.58,2.55],[0.6,2.0],[0.62,2.7],[0.63,1.8],[0.65,2.4],[0.67,2.0],[0.69,1.7],[0.71,2.3],[0.73,2.05],[0.76,1.85],[0.8,2.4],[0.84,2.2],[0.88,2.0],[0.12,2.6],[0.15,2.4],[0.18,2.7],[0.22,2.9],[0.26,3.2],[0.3,3.4],[0.35,3.5],[0.4,3.6],[0.45,3.4],[0.2,3.1],[0.16,3.3]];

const rsScatter = [[-0.3,1.99],[-0.29,1.77],[-0.2,3.13],[-0.16,3.2],[-0.15,2.77],[-0.17,2.92],[-0.13,3.13],[-0.11,2.95],[-0.1,3.28],[-0.08,2.52],[-0.07,2.27],[-0.05,2.67],[-0.02,2.13],[-0.01,3.42],[0,3.17],[-0.01,1.27],[-0.01,0.62],[0.03,0.16],[0.06,0.19],[0.07,3.56],[0.11,3.6],[0.14,3.63],[0.2,3.78],[0.29,3.92],[0.42,3.42],[0.49,3.74],[0.65,3.74],[0.85,3.74],[0.68,3.13],[1.37,2.63],[1.38,2.56],[1.52,2.42],[1.75,2.45],[1.82,2.63],[1.93,2.16],[2.06,2.85],[2.06,2.09],[1.67,1.77],[1.45,1.56],[1.39,1.43],[1.43,0.42],[1.17,1.88],[1.11,1.84],[1.18,2.27],[1.1,2.45],[1.18,2.7],[1.27,2.95],[1.38,2.92],[1.51,2.85],[1.68,2.99],[1.75,2.85],[0.95,1.99],[0.95,1.56],[0.94,1.34],[0.95,0.7],[0.88,0.77],[0.83,1.09],[0.81,1.27],[0.76,0.16],[0.64,0.12],[0.56,0.16],[0.57,0.12],[0.58,0.59],[0.64,0.77],[0.71,0.59],[0.69,1.02],[0.65,1.13],[0.52,0.34],[0.45,0.62],[0.42,0.34],[0.36,0.41],[0.3,0.52],[0.25,0.16],[0.27,0.19],[0.21,0.12],
    [0.1,2.9],[0.12,3.1],[0.14,2.7],[0.16,3.0],[0.18,3.25],[0.2,2.85],[0.22,3.1],[0.24,2.6],[0.26,3.0],[0.28,3.2],[0.3,2.9],[0.32,3.05],[0.34,2.75],[0.36,3.15],[0.38,2.95],[0.4,3.1],[0.42,2.8],[0.44,3.0],[0.46,3.2],[0.48,2.9],[0.5,3.05],[0.52,2.7],[0.54,3.1],[0.56,2.95],[0.58,3.15],[0.6,2.85],[0.62,3.0],[0.64,2.75],[0.66,3.1],[0.68,2.9],[0.7,3.0],[0.72,2.8],[0.74,3.05],[0.76,2.9],[0.78,3.1],[0.8,2.85],[0.82,3.0],[0.84,2.9],[0.86,2.75],[0.88,3.05],[0.9,2.9],[0.92,2.8],[0.95,3.0],[0.98,2.85],[1.0,2.95],[1.03,2.8],[1.06,3.0],[1.09,2.9],
    [0.15,2.5],[0.19,2.6],[0.23,2.4],[0.27,2.55],[0.31,2.45],[0.35,2.6],[0.39,2.5],[0.43,2.35],[0.47,2.55],[0.51,2.4],[0.55,2.6],[0.59,2.5],[0.63,2.4],[0.67,2.6],[0.71,2.5],[0.75,2.45],[0.79,2.55],[0.83,2.4],[0.87,2.5],[0.91,2.3],
    [0.05,2.3],[0.06,1.9],[0.07,1.5],[0.08,2.6],[0.08,1.1],[0.09,0.8],[0.1,1.7],[0.1,2.2],[0.11,1.3],[0.12,0.6],[0.12,1.95],[0.13,1.0],[0.14,2.4],[0.14,1.5],[0.15,0.4],[0.15,1.2],[0.16,1.8],[0.17,0.9],[0.17,2.1],[0.18,1.4],[0.18,0.65],[0.19,1.65],[0.2,2.3],[0.2,1.0],[0.21,1.3],[0.22,0.5],[0.22,1.85],[0.23,2.05],[0.24,1.15],[0.24,0.8],[0.25,1.6],[0.26,0.35],[0.26,2.2],[0.27,1.35],[0.28,0.95],[0.28,1.9],[0.29,0.6],[0.3,1.5],[0.3,2.15],
    [0.32,1.8],[0.33,1.3],[0.34,2.0],[0.35,1.05],[0.36,1.6],[0.37,2.25],[0.38,1.4],[0.39,1.9],[0.4,1.2],[0.41,2.1],[0.42,1.55],[0.43,1.75],[0.44,1.0],[0.45,2.0],[0.46,1.4],[0.47,1.85],[0.48,2.2],[0.49,1.6],[0.5,1.95],[0.51,1.3],[0.52,2.15],[0.53,1.7],[0.54,1.9],[0.55,1.45],[0.56,2.1],[0.57,1.8],[0.58,1.6],[0.59,2.25],[0.6,1.9],[0.61,1.7],[0.62,2.05],[0.64,1.85],[0.66,2.2],[0.68,1.75],[0.7,2.0],[0.72,1.9],[0.74,2.15],[0.76,1.8],[0.78,2.3],[0.8,2.05],[0.82,2.2],[0.85,1.95],[0.88,2.1],[0.9,1.85],[0.93,2.2],
    [0.33,0.8],[0.36,0.5],[0.38,0.9],[0.4,0.45],[0.44,1.25],[0.47,1.1],[0.5,0.95],[0.53,1.2],
    [0.09,1.4],[0.1,1.0],[0.1,2.6],[0.11,1.75],[0.11,3.0],[0.12,1.2],[0.12,2.5],[0.13,1.55],[0.13,2.85],[0.14,1.85],[0.14,0.9],[0.15,2.2],[0.15,3.2],[0.16,1.35],[0.16,2.6],[0.17,1.6],[0.17,2.9],[0.18,1.1],[0.18,2.3],[0.19,1.9],[0.19,2.8],[0.2,1.45],[0.2,2.6],[0.21,1.75],[0.21,3.0],[0.22,1.25],[0.22,2.4],[0.23,1.6],[0.23,2.8],[0.24,1.95],[0.24,3.2],[0.25,1.35],[0.25,2.5],[0.26,1.7],[0.26,2.8],[0.27,2.0],[0.28,2.45],[0.28,1.5],[0.29,2.9],[0.29,1.9],[0.3,2.6],[0.31,2.0],[0.32,2.7],[0.33,2.2],[0.34,2.9],[0.35,2.3],[0.36,2.8],[0.37,1.9],[0.38,2.7],[0.4,2.3],[0.41,2.9],[0.43,2.6],[0.45,2.8],[0.47,2.3],[0.49,2.7],[0.5,2.25],[0.52,2.9],[0.53,2.45],[0.55,2.8],[0.57,2.3],[0.6,2.65],[0.62,2.25],[0.65,2.85],[0.67,2.4],[0.69,2.7],[0.72,2.3],[0.74,2.6],[0.77,2.75],[0.8,2.5],[0.83,2.7],[0.86,2.3],[0.89,2.7],[0.93,2.5],[0.96,2.7],[0.13,3.35],[0.17,3.5],[0.22,3.4],[0.25,3.6],[0.3,3.3],[0.33,3.5]];

// fitted lines, read at the x-axis limits
const jjFit = [[-0.305,1.33],[2.064,-0.77]];
const cpFit = [[-0.305,1.31],[2.064,3.52]];
const rsFit = [[-0.305,1.6],[2.064,3.4]];

const SERIF = "'Liberation Serif', 'Times New Roman', serif";
const AXIS_GREY = "#262626";
const GRID_GREY = "#dedede";

function toXY(pairs) {
    return pairs.map(p => ({ x: p[0], y: p[1] }));
}

// box round the axes, drawn over the data like matlab does
const framePlugin = {
    id: "frame",
    afterDatasetsDraw(chart) {
        const a = chart.chartArea, ctx = chart.ctx;
        ctx.save();
        ctx.strokeStyle = AXIS_GREY;
        ctx.lineWidth = 1;
        ctx.strokeRect(a.left, a.top, a.right - a.left, a.bottom - a.top);
        ctx.restore();
    }
};

// legend box inside the axes (offsets from the top right corner of the plot)
function boxLegend(cfg) {
    return {
        id: "boxLegend",
        afterDatasetsDraw(chart) {
            const a = chart.chartArea, ctx = chart.ctx;
            const x = a.right - cfg.right - cfg.width;
            const y = a.top + cfg.top;
            ctx.save();
            ctx.fillStyle = "#ffffff";
            ctx.fillRect(x, y, cfg.width, cfg.height);
            ctx.strokeStyle = AXIS_GREY;
            ctx.lineWidth = 1;
            ctx.strokeRect(x, y, cfg.width, cfg.height);
            ctx.font = "bold 25px " + SERIF;
            ctx.textBaseline = "middle";
            cfg.items.forEach((it, i) => {
                const ry = y + cfg.rows[i];
                ctx.strokeStyle = it.color;
                ctx.lineWidth = 1.2;
                ctx.beginPath();
                if (it.marker) {
                    ctx.arc(x + cfg.markerX, ry, 4.1, 0, Math.PI * 2);
                } else {
                    ctx.moveTo(x + cfg.sample[0], ry);
                    ctx.lineTo(x + cfg.sample[1], ry);
                }
                ctx.stroke();
                ctx.fillStyle = "#000000";
                ctx.fillText(it.text, x + cfg.textX, ry);
            });
            ctx.restore();
        }
    };
}

function panelOptions(o) {
    const tickFont = { family: SERIF, size: 28, weight: "bold", lineHeight: 1 };
    const labelFont = { family: SERIF, size: 30, weight: "bold", lineHeight: 1 };
    return {
        responsive: false,
        animation: false,
        events: [],
        layout: { padding: { left: 0, right: o.rightPad, top: 0, bottom: 0 } },
        plugins: {
            legend: { display: false },
            tooltip: { enabled: false },
            title: {
                display: true,
                text: o.title,
                color: "#000000",
                fullSize: false,
                font: { family: SERIF, size: 30.5, weight: "bold", lineHeight: 1 },
                padding: { top: 14.7, bottom: 4.7 }
            }
        },
        scales: {
            x: {
                type: "linear",
                min: o.xMin,
                max: o.xMax,
                afterBuildTicks: s => { s.ticks = o.xTicks.map(v => ({ value: v })); },
                afterFit: s => { s.height = 74; s.paddingLeft = 0; s.paddingRight = 0; },
                ticks: {
                    autoSkip: false, maxRotation: 0, minRotation: 0,
                    padding: 13, color: AXIS_GREY, font: tickFont,
                    callback: v => o.xLabels.includes(v) ? String(v) : ""
                },
                grid: { color: GRID_GREY, drawTicks: false },
                border: { display: false },
                title: { display: true, text: o.xTitle, color: AXIS_GREY, font: labelFont, padding: { top: 0, bottom: 0 } }
            },
            y: {
                type: "linear",
                min: o.yMin,
                max: 4,
                afterBuildTicks: s => { s.ticks = alphaTicks.map(v => ({ value: v })); },
                afterFit: s => { s.width = o.yWidth; s.paddingTop = 0; s.paddingBottom = 0; },
                ticks: { padding: 7, color: AXIS_GREY, font: tickFont, callback: v => String(v) },
                grid: { color: GRID_GREY, drawTicks: false },
                border: { display: false },
                title: { display: true, text: o.yTitle, color: AXIS_GREY, font: labelFont, padding: { top: o.yTitlePad, bottom: 0 } }
            }
        }
    };
}

function makeTimePanel(id, title, obs, model, legendTop) {
    const ctx = document.getElementById(id).getContext("2d");
    new Chart(ctx, {
        type: "line",
        data: {
            datasets: [
                { label: "AERONET", data: toXY(obs), borderColor: "#000000", borderWidth: 1.1, pointRadius: 0, tension: 0, order: 0 },
                { label: "Model", data: toXY(model), borderColor: "#ff0000", borderWidth: 1.1, pointRadius: 0, tension: 0, order: 1 }
            ]
        },
        options: panelOptions({
            title: title, rightPad: 18.75, yWidth: 63,
            xMin: 2006.18, xMax: 2014.94, xTicks: gridYears, xLabels: yearLabels,
            yMin: -0.31, xTitle: "Year", yTitle: "α", yTitlePad: 0
        }),
        plugins: [framePlugin, boxLegend({
            right: 14.6, top: legendTop, width: 181, height: 61,
            rows: [16.6, 44.8], sample: [4.5, 50], textX: 54.5,
            items: [{ text: "AERONET", color: "#000000" }, { text: "Model", color: "#ff0000" }]
        })]
    });
}

function makeScatterPanel(id, title, points, fit, yMin, legend) {
    const ctx = document.getElementById(id).getContext("2d");
    new Chart(ctx, {
        type: "scatter",
        data: {
            datasets: [
                { type: "line", data: toXY(fit), borderColor: "#ff0000", borderWidth: 3.6, pointRadius: 0, order: 0 },
                { data: toXY(points), pointStyle: "circle", pointRadius: 4.1, borderColor: "#0000ff",
                  borderWidth: 1, backgroundColor: "rgba(0,0,0,0)", order: 1 }
            ]
        },
        options: panelOptions({
            title: title, rightPad: 0, yWidth: 106.25,
            xMin: -0.305, xMax: 2.064, xTicks: aeronetTicks, xLabels: aeronetTicks,
            yMin: yMin, xTitle: "α AERONET", yTitle: "α estimated", yTitlePad: 50.9
        }),
        plugins: [framePlugin, boxLegend(Object.assign({ right: 11.25, rows: [17.5] }, legend))]
    });
}

makeTimePanel("c1", "JANJAI", jjObs, jjModel, 12.3);
makeTimePanel("c3", "CPCR2", obsB, cpModel, 11.2);
makeTimePanel("c5", "REST2", obsB, rsModel, 11.3);

makeScatterPanel("c2", "JANJAI R =- 0.30", jjScatter, jjFit, -0.77,
    { top: 12, width: 312.5, height: 33, markerX: 26.6, textX: 59.5,
      items: [{ text: "y = -0.86935 + 1.0516*x", color: "#0000ff", marker: true }] });
makeScatterPanel("c4", "CPCR2 R = 0.38", cpScatter, cpFit, 0,
    { top: 11.7, width: 306, height: 33.3, markerX: 28.75, textX: 60,
      items: [{ text: "y = 0.93513 + 1.5791*x", color: "#0000ff", marker: true }] });
makeScatterPanel("c6", "REST2 R = 0.31", rsScatter, rsFit, 0,
    { top: 12.3, width: 306, height: 33.3, markerX: 28.75, textX: 60,
      items: [{ text: "y = 0.76756 + 1.8226*x", color: "#0000ff", marker: true }] });
</script>
</body>
</html>
